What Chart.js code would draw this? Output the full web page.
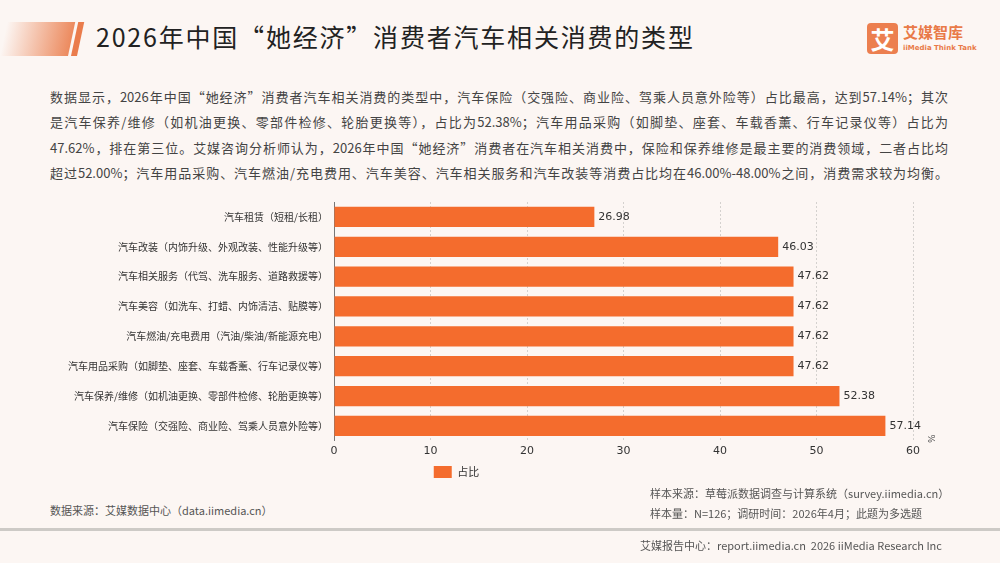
<!DOCTYPE html>
<html lang="zh">
<head>
<meta charset="UTF-8">
<title>2026年中国“她经济”消费者汽车相关消费的类型</title>
<script src="https://cdn.jsdelivr.net/npm/chart.js"></script>
<style>
  body {
    margin: 0;
    width: 1000px;
    height: 563px;
    overflow: hidden;
    background: #fcf6f3;
    font-family: "Noto Sans CJK SC", "Noto Sans", sans-serif;
    position: relative;
  }
  .abs { position: absolute; }
  /* header decoration */
  .deco {
    left: 0; top: 22px; width: 68px; height: 34px;
    background: linear-gradient(to right, rgba(240,140,100,0) 0%, #ec8a5e 100%);
    transform: skewX(-12deg);
    transform-origin: bottom left;
  }
  .stripe {
    left: 71px; top: 22px; width: 6px; height: 34px;
    background: #ea7c4c;
    transform: skewX(-12deg);
    transform-origin: bottom left;
  }
  .title {
    left: 96px; top: 18px;
    font-size: 25px; color: #222; line-height: 36px; letter-spacing: 1.8px;
  }
  .logo-box {
    left: 867px; top: 23px; width: 31px; height: 31px;
    background: #ec7f4f; border-radius: 4px;
    color: #fff; font-size: 24px; line-height: 31px; text-align: center; font-weight: bold;
  }
  .logo-cn { left: 903px; top: 22px; font-size: 15px; color: #e97a48; font-weight: bold; line-height: 20px; }
  .logo-en { left: 903px; top: 43px; font-size: 7px; color: #e97a48; font-weight: bold; line-height: 10px; font-family: "DejaVu Sans", sans-serif; }
  .para { left: 50px; top: 84px; width: 898px; font-size: 13px; color: #444; }
  .para div { height: 25.3px; line-height: 25px; text-align: justify; text-align-last: justify; white-space: nowrap; }
  .foot { font-size: 11px; color: #555; line-height: 16px; }
  .rule { left: 0; top: 528px; width: 1000px; height: 3px; background: #cdcac6; }
  #wrap { left: 0; top: 185px; width: 1000px; height: 303px; }
</style>
</head>
<body>
<div class="abs deco"></div>
<div class="abs stripe"></div>
<div class="abs title">2026年中国“她经济”消费者汽车相关消费的类型</div>
<div class="abs logo-box">艾</div>
<div class="abs logo-cn">艾媒智库</div>
<div class="abs logo-en">iiMedia Think Tank</div>

<div class="abs para">
  <div>数据显示，2026年中国“她经济”消费者汽车相关消费的类型中，汽车保险（交强险、商业险、驾乘人员意外险等）占比最高，达到57.14%；其次</div>
  <div>是汽车保养/维修（如机油更换、零部件检修、轮胎更换等），占比为52.38%；汽车用品采购（如脚垫、座套、车载香薰、行车记录仪等）占比为</div>
  <div>47.62%，排在第三位。艾媒咨询分析师认为，2026年中国“她经济”消费者在汽车相关消费中，保险和保养维修是最主要的消费领域，二者占比均</div>
  <div>超过52.00%；汽车用品采购、汽车燃油/充电费用、汽车美容、汽车相关服务和汽车改装等消费占比均在46.00%-48.00%之间，消费需求较为均衡。</div>
</div>

<div class="abs" id="wrap"><canvas id="barChart"></canvas></div>

<div class="abs foot" style="left:50px; top:502px;">数据来源：艾媒数据中心（data.iimedia.cn）</div>
<div class="abs foot" style="left:650px; top:485px;">样本来源：草莓派数据调查与计算系统（survey.iimedia.cn）</div>
<div class="abs foot" style="left:650px; top:505px;">样本量：N=126；调研时间：2026年4月；此题为多选题</div>
<div class="abs rule"></div>
<div class="abs foot" style="left:640px; top:537px;">艾媒报告中心：report.iimedia.cn&nbsp;&nbsp;2026 iiMedia Research Inc</div>

<script>
  // categories, top to bottom
  const categories = [
    '汽车租赁（短租/长租）',
    '汽车改装（内饰升级、外观改装、性能升级等）',
    '汽车相关服务（代驾、洗车服务、道路救援等）',
    '汽车美容（如洗车、打蜡、内饰清洁、贴膜等）',
    '汽车燃油/充电费用（汽油/柴油/新能源充电）',
    '汽车用品采购（如脚垫、座套、车载香薰、行车记录仪等）',
    '汽车保养/维修（如机油更换、零部件检修、轮胎更换等）',
    '汽车保险（交强险、商业险、驾乘人员意外险等）'
  ];
  const shares = [26.98, 46.03, 47.62, 47.62, 47.62, 47.62, 52.38, 57.14];
  const seriesName = '占比';
  const xMax = 60;
  const xStep = 10;
  const unitLabel = '%';

  const barColor = '#f46c2d';
  const textColor = '#333';

  // value labels at the bar ends
  const valueLabels = {
    id: 'valueLabels',
    afterDatasetsDraw(chart) {
      const { ctx } = chart;
      const meta = chart.getDatasetMeta(0);
      ctx.save();
      ctx.font = '11px "DejaVu Sans", sans-serif';
      ctx.fillStyle = textColor;
      ctx.textBaseline = 'middle';
      meta.data.forEach((bar, i) => {
        ctx.fillText(shares[i].toFixed(2), bar.x + 4, bar.y);
      });
      ctx.restore();
    }
  };

  // small rotated unit label next to the last tick
  const unitMark = {
    id: 'unitMark',
    afterDraw(chart) {
      const { ctx, chartArea } = chart;
      ctx.save();
      ctx.translate(chartArea.right + 20, chartArea.bottom - 2);
      ctx.rotate(-Math.PI / 2);
      ctx.font = '9px "DejaVu Sans", sans-serif';
      ctx.fillStyle = '#555';
      ctx.textAlign = 'center';
      ctx.textBaseline = 'middle';
      ctx.fillText(unitLabel, 0, 0);
      ctx.restore();
    }
  };

  new Chart(document.getElementById('barChart'), {
    type: 'bar',
    data: {
      labels: categories,
      datasets: [{
        label: seriesName,
        data: shares,
        backgroundColor: barColor,
        borderWidth: 0,
        barPercentage: 0.68,
        categoryPercentage: 1.0
      }]
    },
    options: {
      indexAxis: 'y',
      responsive: true,
      maintainAspectRatio: false,
      animation: false,
      layout: { padding: { top: 17, right: 87, bottom: 0, left: 0 } },
      plugins: {
        legend: {
          position: 'bottom',
          labels: {
            boxWidth: 18,
            boxHeight: 12,
            padding: 4,
            color: textColor,
            font: { size: 11, family: '"Noto Sans CJK SC", sans-serif' }
          }
        },
        tooltip: { enabled: false }
      },
      scales: {
        x: {
          min: 0,
          max: xMax,
          ticks: {
            stepSize: xStep,
            color: textColor,
            padding: 4,
            font: { size: 11, family: '"DejaVu Sans", sans-serif' }
          },
          grid: {
            color: '#d4d1ce',
            drawTicks: false
          },
          border: { display: false, dash: [2, 2] }
        },
        y: {
          afterFit(scale) { scale.width = 334; },
          ticks: {
            color: textColor,
            padding: 6,
            font: { size: 10, family: '"Noto Sans CJK SC", sans-serif' }
          },
          grid: { display: false, drawTicks: false },
          border: { display: true, color: '#777', width: 1 }
        }
      }
    },
    plugins: [valueLabels, unitMark]
  });
</script>
</body>
</html>
